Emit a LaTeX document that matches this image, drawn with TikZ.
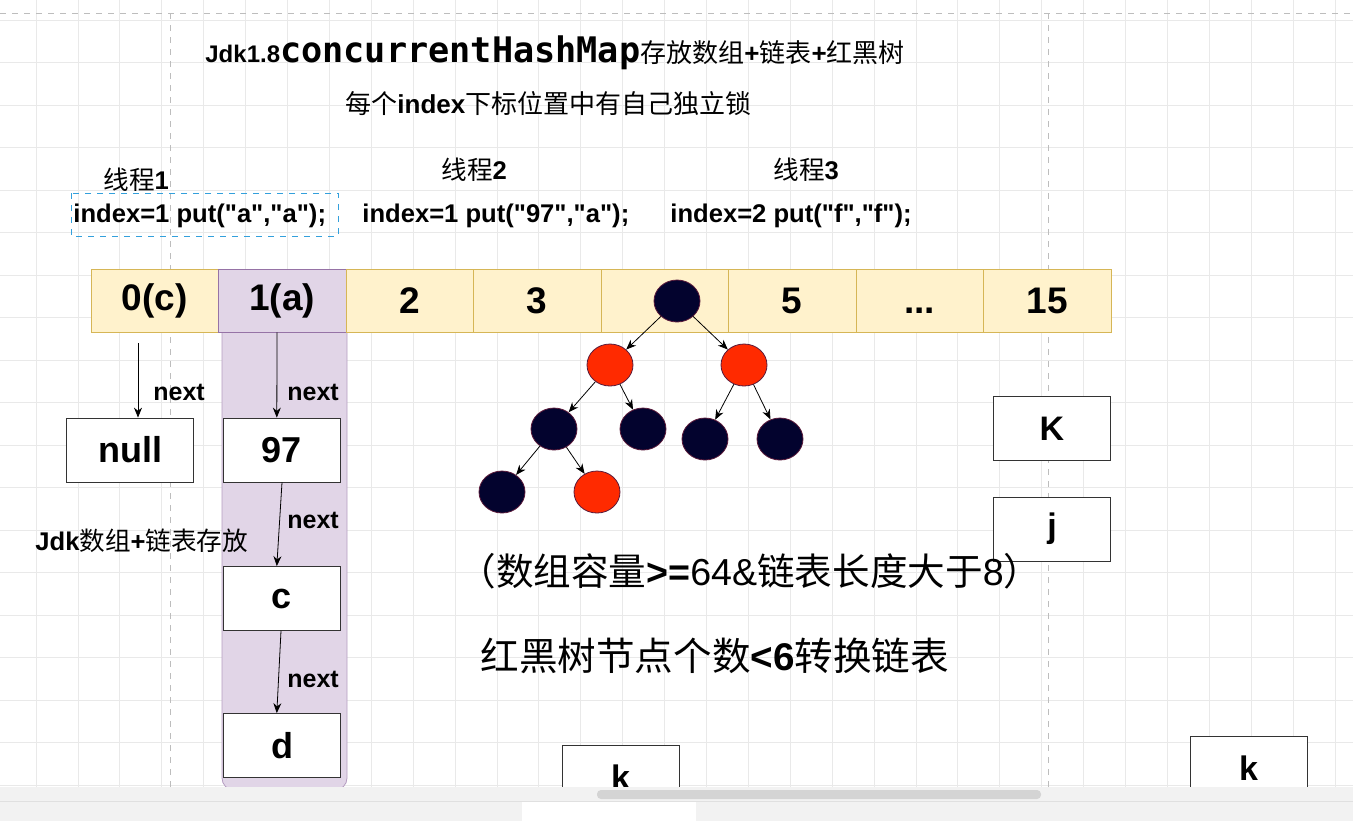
\documentclass[tikz,border=0pt]{standalone}
\usepackage{fontspec}
\setmainfont{Liberation Sans}[Ligatures=TeXOff]
\newfontfamily\cjkfont{Noto Sans CJK SC}
\newfontfamily\monofont{DejaVu Sans Mono}
\usepackage{xcolor}
\definecolor{slotfill}{HTML}{FFF2CC}
\definecolor{slotline}{HTML}{D6B656}
\definecolor{lockfill}{HTML}{E1D5E7}
\definecolor{lockline}{HTML}{9673A6}
\definecolor{navyfill}{HTML}{03032E}
\definecolor{redfill}{HTML}{FF2A00}
\definecolor{rimline}{HTML}{5A1A3A}
\definecolor{gridgray}{HTML}{E9E9E9}
\definecolor{pagegray}{HTML}{BDBDBD}
\definecolor{selblue}{HTML}{33A0DC}
\definecolor{barbg}{HTML}{F2F2F2}
\definecolor{barthumb}{HTML}{D4D4D4}
\usetikzlibrary{arrows.meta, positioning, shapes.geometric}
\newcommand{\zh}[1]{{\cjkfont\mdseries #1}}
\newcommand{\celldots}{\vphantom{0}...}

\begin{document}
\begin{tikzpicture}[x=0.5pt, y=-0.5pt,
  slot/.style={rectangle, draw=slotline, fill=slotfill, minimum width=63.75pt,
    minimum height=31.5pt, inner sep=0pt, font=\bfseries\fontsize{18.5}{21}\selectfont},
  slotlock/.style={slot, draw=lockline, fill=lockfill},
  entry/.style={rectangle, draw=black!80, fill=white, minimum width=58.5pt,
    minimum height=32pt, inner sep=0pt, font=\bfseries\fontsize{18}{21}\selectfont},
  treeblack/.style={ellipse, draw=rimline, fill=navyfill, minimum width=23pt,
    minimum height=21pt, inner sep=0pt},
  treered/.style={treeblack, fill=redfill},
  link/.style={-{Stealth[length=5pt, width=4pt]}, thin, black},
  nextlbl/.style={inner sep=0pt, font=\bfseries\fontsize{12.5}{14}\selectfont},
  textlbl/.style={inner sep=0pt, anchor=base west, font=\bfseries\fontsize{12.8}{15}\selectfont}]

  \useasboundingbox (0,0) rectangle (1353,821);
  \clip (0,0) rectangle (1353,821);

  % editor grid and page breaks
  \foreach \gx in {0,...,31} {
    \draw[gridgray, thin] ({36+41.9*\gx},0) -- ++(0,821);
  }
  \foreach \gy in {0,...,19} {
    \draw[gridgray, thin] (0,{20+42.5*\gy}) -- ++(1353,0);
  }
  \draw[pagegray, dashed] (0,13) -- (1353,13);
  \draw[pagegray, dashed] (170,13) -- (170,787);
  \draw[pagegray, dashed] (1048,13) -- (1048,787);

  % locked bucket column
  \path[draw=lockline!70, fill=lockfill, rounded corners=6pt]
    (222,332) -- (222,790) -- (347,790) -- (347,332);

  % array of buckets
  \foreach \lbl [count=\i from 0] in {0(c),1(a),2,3,{},5,\celldots,15} {
    \ifnum\i=1 \def\slotsty{slotlock}\else\def\slotsty{slot}\fi
    \node[\slotsty] (cell\i) at ({154.75+127.5*\i},300.5) {\lbl};
  }

  % red-black tree in bucket 4
  \node[treeblack] (root) at (677,301) {};
  \node[treered] (redL) at (610,365) {};
  \node[treered] (redR) at (744,365) {};
  \node[treeblack] (b1) at (554,429) {};
  \node[treeblack] (b2) at (643,429) {};
  \node[treeblack] (b3) at (705,439) {};
  \node[treeblack] (b4) at (780,439) {};
  \node[treeblack] (b5) at (502,492) {};
  \node[treered] (red3) at (597,492) {};
  \foreach \a/\b in {root/redL, root/redR, redL/b1, redL/b2, redR/b3, redR/b4, b1/b5, b1/red3} {
    \draw[link] (\a) -- (\b);
  }

  % bucket 0 list
  \node[entry, minimum width=63.5pt] (null) at (130,450) {null};
  \coordinate (c0start) at (138,343);
  \draw[link] (c0start) -- (c0start |- null.north);
  \node[nextlbl, anchor=west] (next0) at (153,392) {next};

  % bucket 1 list
  \node[entry] (n97) at (282,450) {97};
  \node[entry] (nc) at (282,598.5) {c};
  \node[entry] (nd) at (282,745.5) {d};
  \draw[link] ([xshift=-2.6pt]cell1.south) -- ([xshift=-2.6pt]n97.north);
  \draw[link] (n97.south) -- ([xshift=-2.6pt]nc.north);
  \draw[link] ([xshift=-0.5pt]nc.south) -- ([xshift=-2.6pt]nd.north);
  \node[nextlbl, anchor=west] (next1) at (287,392) {next};
  \node[nextlbl, anchor=west] (next2) at (287,520) {next};
  \node[nextlbl, anchor=west] (next3) at (287,679) {next};

  % loose boxes
  \node[entry, font=\bfseries\fontsize{17}{20}\selectfont] (boxK) at (1052,428.5) {K};
  \node[entry, font=\bfseries\fontsize{17}{20}\selectfont] (boxj) at (1052,529) {j};
  \node[entry, font=\bfseries\fontsize{17}{20}\selectfont] (boxk1) at (620.5,777) {k};
  \node[entry, font=\bfseries\fontsize{17}{20}\selectfont] (boxk2) at (1248.5,768) {k};

  % titles and notes
  \node[textlbl] (title) at (205,62)
    {{\fontsize{12}{14}\selectfont Jdk1.8}{\monofont\bfseries\fontsize{17.6}{20}\selectfont concurrentHashMap}{\fontsize{13}{15}\selectfont\zh{存放数组}+\zh{链表}+\zh{红黑树}}};
  \node[textlbl, font=\bfseries\fontsize{13}{15}\selectfont] (locknote) at (345,113)
    {\zh{每个}index\zh{下标位置中有自己独立锁}};
  \node[textlbl] (thr1) at (103,189) {\zh{线程}1};
  \node[textlbl] (thr2) at (441,179) {\zh{线程}2};
  \node[textlbl] (thr3) at (773,179) {\zh{线程}3};
  \node[textlbl] (put1) at (73,222) {index=1 put("a","a");};
  \node[textlbl] (put2) at (362,222) {index=1 put("97","a");};
  \node[textlbl] (put3) at (670,222) {index=2 put("f","f");};
  \draw[selblue, dashed] (71,193) rectangle (338,236);
  \node[textlbl] (jdknote) at (35,550) {Jdk\zh{数组}+\zh{链表存放}};
  \node[textlbl, font=\fontsize{18.8}{21}\selectfont] (treeif) at (458,585)
    {\zh{（数组容量}\textbf{>=}64\&\zh{链表长度大于}8\zh{）}};
  \node[textlbl, font=\fontsize{19.3}{22}\selectfont] (untreeif) at (480,670)
    {\zh{红黑树节点个数}\textbf{<6}\zh{转换链表}};

  % editor bottom bar
  \fill[barbg] (0,787) rectangle (1353,821);
  \draw[black!12] (0,801) -- (1353,801);
  \fill[barthumb, rounded corners=2pt] (597,790) rectangle (1041,799);
  \fill[white] (522,802) rectangle (696,821);

\end{tikzpicture}
\end{document}
